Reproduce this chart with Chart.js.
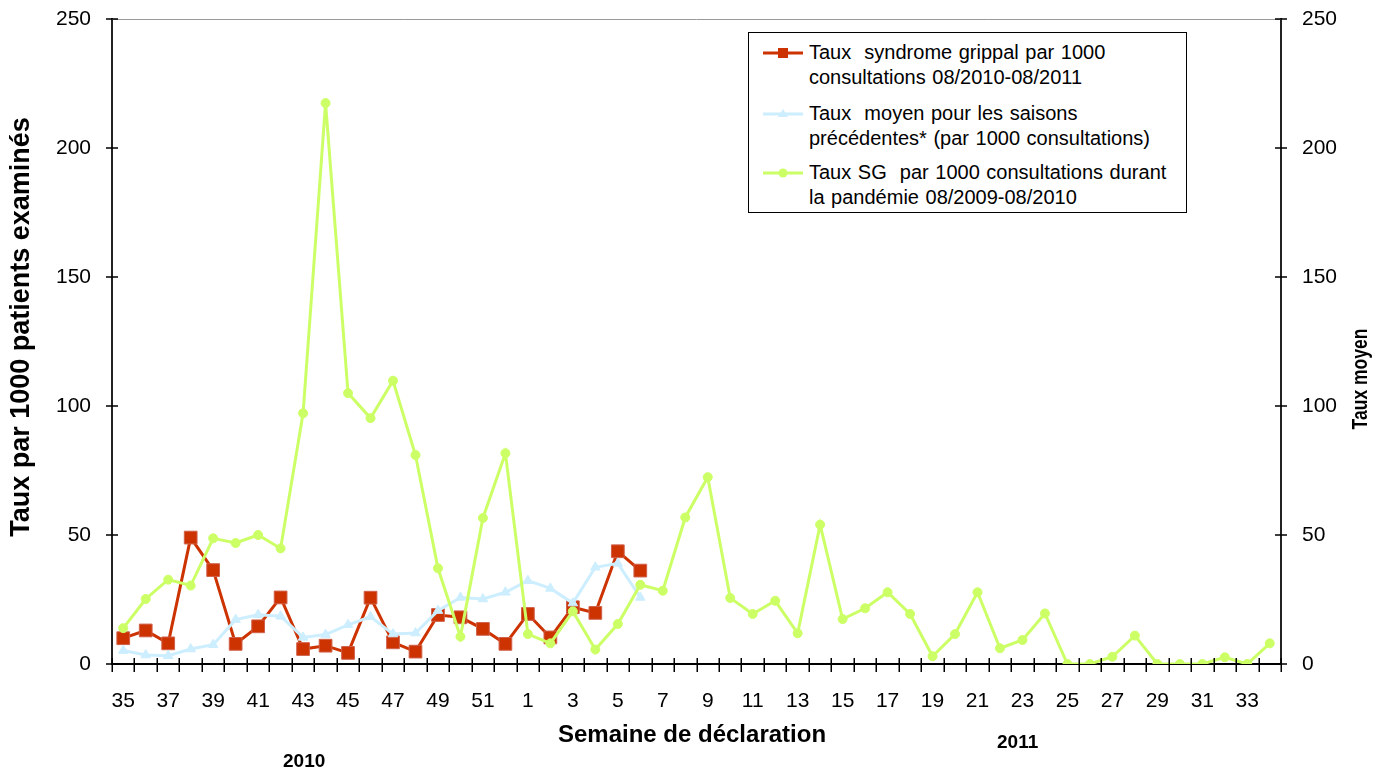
<!DOCTYPE html>
<html>
<head>
<meta charset="utf-8">
<script src="https://cdn.jsdelivr.net/npm/chart.js@4.4.1/dist/chart.umd.min.js"></script>
<style>
  html, body { margin:0; padding:0; background:#fff; }
  #wrap { position:relative; width:1388px; height:772px; overflow:hidden; font-family:'Liberation Sans', Arial, sans-serif; }
  canvas { position:absolute; left:0; top:0; }
  #legend { position:absolute; left:748px; top:32px; width:437px; height:179px; border:1px solid #000; background:#fff; }
  .item { position:absolute; left:14px; }
  .item svg { position:absolute; left:0; top:6px; }
  .item .txt { position:absolute; left:46px; top:0; font-size:20px; line-height:24.5px; white-space:nowrap; color:#000; word-spacing:1px; }
  .year { position:absolute; font-weight:bold; font-size:19px; color:#000; }
</style>
</head>
<body>
<div id="wrap">
  <canvas id="c" width="1388" height="772"></canvas>
  <div id="legend">
    <div class="item" style="top:7px">
      <svg width="42" height="14"><line x1="0" y1="7" x2="40" y2="7" stroke="#cc3300" stroke-width="3"/><rect x="15" y="2" width="10" height="10" fill="#cc3300"/></svg>
      <div class="txt">Taux &nbsp;syndrome grippal par 1000<br>consultations 08/2010-08/2011</div>
    </div>
    <div class="item" style="top:68px">
      <svg width="42" height="14"><line x1="0" y1="7" x2="40" y2="7" stroke="#cceeff" stroke-width="3"/><polygon points="20,2 25,10 15,10" fill="#cceeff"/></svg>
      <div class="txt">Taux &nbsp;moyen pour les saisons<br>précédentes* (par 1000 consultations)</div>
    </div>
    <div class="item" style="top:127px">
      <svg width="42" height="14"><line x1="0" y1="7" x2="40" y2="7" stroke="#ccff66" stroke-width="3"/><circle cx="20" cy="7" r="4.5" fill="#ccff66"/></svg>
      <div class="txt">Taux SG &nbsp;par 1000 consultations durant<br>la pandémie 08/2009-08/2010</div>
    </div>
  </div>
  <div class="year" style="left:283px; top:750px;">2010</div>
  <div class="year" style="left:997px; top:731px;">2011</div>
</div>
<script>
// ---- Data ----
const weeks = [35,36,37,38,39,40,41,42,43,44,45,46,47,48,49,50,51,52,
               1,2,3,4,5,6,7,8,9,10,11,12,13,14,15,16,17,18,19,20,21,22,23,24,25,26,27,28,29,30,31,32,33,34];
const taux2010_2011 = [10,13,8,49,36.4,7.8,14.6,25.8,5.8,7.1,4.3,25.7,8.4,4.8,19,18.1,13.6,7.8,
                       19.4,10.3,22,19.8,43.7,36.2];
const tauxMoyen = [5.2,3.5,3.2,5.8,7.5,17.2,19.1,18.5,10.3,11.4,15.2,18.3,11.6,12,20.7,25.8,25.2,27.8,
                   32.3,29.3,23.6,37.5,39,25.8];
const tauxPandemie = [13.9,25.2,32.7,30.4,48.7,46.9,50,44.8,97.2,217.4,105,95.3,109.8,81,37.1,10.6,56.6,81.7,
                      11.6,8,20.4,5.6,15.5,30.7,28.4,56.8,72.4,25.6,19.4,24.5,11.9,54,17.4,21.6,27.8,19.4,
                      3,11.6,27.8,6.1,9.3,19.6,0,0,2.8,11,0,0,0,2.6,0,8];
const yTicks = [0,50,100,150,200,250];

const FONT = "'Liberation Sans', Arial, sans-serif";

const decor = {
  id: 'decor',
  afterDraw(chart) {
    const {ctx, chartArea: a, scales} = chart;
    const x = scales.x, y = scales.y, y2 = scales.y2;
    ctx.save();
    // top border (light)
    ctx.strokeStyle = '#999'; ctx.lineWidth = 1;
    ctx.beginPath(); ctx.moveTo(a.left, a.top + 0.5); ctx.lineTo(a.right, a.top + 0.5); ctx.stroke();
    // cross ticks
    ctx.strokeStyle = '#000'; ctx.lineWidth = 1.5;
    const n = x.ticks.length;
    ctx.beginPath();
    for (let k = 0; k <= n; k++) {
      const px = Math.round(x.left + (x.right - x.left) * k / n) + 0.25;
      ctx.moveTo(px, a.bottom - 6); ctx.lineTo(px, a.bottom + 8);
    }
    y.ticks.forEach(t => {
      const py = y.getPixelForValue(t.value);
      ctx.moveTo(a.left - 6, py); ctx.lineTo(a.left + 6, py);
    });
    y2.ticks.forEach(t => {
      const py = y2.getPixelForValue(t.value);
      ctx.moveTo(a.right - 6, py); ctx.lineTo(a.right + 6, py);
    });
    ctx.stroke();
    // titles
    ctx.fillStyle = '#000';
    ctx.textAlign = 'center'; ctx.textBaseline = 'middle';
    ctx.font = "bold 24px " + FONT;
    ctx.fillText('Semaine de déclaration', 692, 735);
    ctx.save();
    ctx.translate(22, 327); ctx.rotate(-Math.PI / 2);
    ctx.font = "bold 27px " + FONT;
    ctx.fillText('Taux par 1000 patients examinés', 0, 0);
    ctx.restore();
    ctx.save();
    ctx.translate(1361, 379); ctx.rotate(-Math.PI / 2); ctx.scale(1, 1.3);
    ctx.font = "bold 17.5px " + FONT;
    ctx.fillText('Taux moyen', 0, 0);
    ctx.restore();
    ctx.restore();
  }
};

const noPad = s => { s.paddingTop = 0; s.paddingBottom = 0; };

new Chart(document.getElementById('c'), {
  type: 'line',
  data: {
    labels: weeks,
    datasets: [
      {
        label: 'Taux syndrome grippal par 1000 consultations 08/2010-08/2011',
        data: taux2010_2011,
        borderColor: '#cc3300', backgroundColor: '#cc3300',
        pointBorderColor: '#d0604a', pointBorderWidth: 1,
        borderWidth: 3, pointStyle: 'rect', pointRadius: 9, pointHoverRadius: 9,
        tension: 0, order: 3, yAxisID: 'y'
      },
      {
        label: 'Taux moyen pour les saisons précédentes* (par 1000 consultations)',
        data: tauxMoyen,
        borderColor: '#cceeff', backgroundColor: '#cceeff',
        borderWidth: 3, pointStyle: 'triangle', pointRadius: 5.5, pointHoverRadius: 5.5, pointBorderWidth: 1,
        tension: 0, order: 2, yAxisID: 'y2'
      },
      {
        label: 'Taux SG par 1000 consultations durant la pandémie 08/2009-08/2010',
        data: tauxPandemie,
        borderColor: '#ccff66', backgroundColor: '#ccff66',
        borderWidth: 3, pointStyle: 'circle', pointRadius: 4.5, pointHoverRadius: 4.5, pointBorderWidth: 1,
        tension: 0, order: 1, yAxisID: 'y'
      }
    ]
  },
  options: {
    responsive: false,
    animation: false,
    events: [],
    layout: { padding: { top: 19, left: 0, right: 0, bottom: 0 } },
    plugins: { legend: { display: false }, tooltip: { enabled: false }, title: { display: false } },
    scales: {
      x: {
        type: 'category',
        offset: true,
        grid: { display: false, drawTicks: false },
        border: { display: true, color: '#000', width: 2 },
        ticks: {
          autoSkip: false, maxRotation: 0, minRotation: 0, padding: 25,
          color: '#000', font: { family: FONT, size: 21 },
          callback: function(val, idx) { return idx % 2 === 0 ? String(weeks[idx]) : ''; }
        },
        afterFit: s => { s.height = 772 - 664; }
      },
      y: {
        position: 'left', min: 0, max: 250,
        afterBuildTicks: s => { s.ticks = yTicks.map(v => ({ value: v })); },
        grid: { display: false, drawTicks: false },
        border: { display: true, color: '#222', width: 2 },
        ticks: { padding: 21, color: '#000', font: { family: FONT, size: 21 } },
        afterFit: s => { s.width = 112; noPad(s); }
      },
      y2: {
        position: 'right', min: 0, max: 250,
        afterBuildTicks: s => { s.ticks = yTicks.map(v => ({ value: v })); },
        grid: { display: false, drawTicks: false },
        border: { display: true, color: '#222', width: 2 },
        ticks: { padding: 21, color: '#000', font: { family: FONT, size: 21 } },
        afterFit: s => { s.width = 1388 - 1281; noPad(s); }
      }
    }
  },
  plugins: [decor]
});
</script>
</body>
</html>
